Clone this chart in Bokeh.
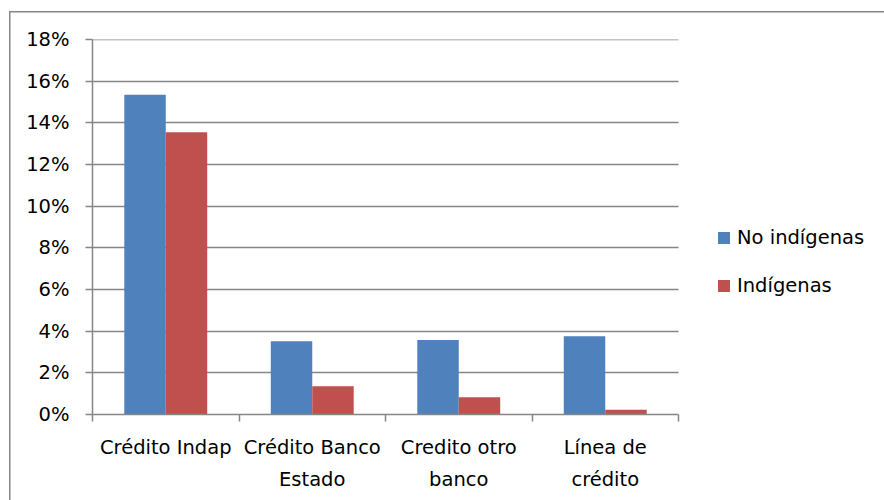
from bokeh.plotting import figure
from bokeh.models import (Range1d, FixedTicker, SingleIntervalTicker, NumeralTickFormatter,
                          Legend, LegendItem, ColumnDataSource)
from bokeh.transform import dodge
from bokeh.embed import file_html
from bokeh.resources import INLINE

categories = ["Crédito Indap", "Crédito Banco\nEstado", "Credito otro\nbanco", "Línea de\ncrédito"]
no_indigenas = [0.1535, 0.0352, 0.0358, 0.0376]
indigenas = [0.1355, 0.0136, 0.0083, 0.0023]
series_names = ["No indígenas", "Indígenas"]
colors = ["#4F81BD", "#C0504D"]
y_max = 0.18
y_step = 0.02

FONT = "DejaVu Sans"
FS = "19.5px"
GRAY = "#868686"

# layout (pixels)
W, H = 884, 500
LEFT, RIGHT, TOP, BOTTOM = 92, 4, 39, 86
PLOT_W = 586                      # width of the category area
FRAME_W = W - LEFT - RIGHT        # frame also hosts the legend on its right

n = len(categories)
pos = [i + 0.5 for i in range(n)]           # category centres (slot units)
edges = list(range(n + 1))                  # category boundaries
src = ColumnDataSource(data=dict(x=pos, no=no_indigenas, ind=indigenas))

p = figure(x_range=Range1d(0, n * FRAME_W / PLOT_W), y_range=Range1d(0, y_max * 1.0005),
           width=W, height=H, output_backend="svg", toolbar_location=None,
           min_border_left=LEFT, min_border_right=RIGHT, min_border_top=TOP,
           min_border_bottom=BOTTOM)
p.outline_line_color = None
p.background_fill_alpha = 0
p.border_fill_alpha = 0
# outer chart border: left and top edges (the rest lies outside the picture)
p.styles = {
    "background-color": "white",
    "background-image": "linear-gradient(#868686, #868686), linear-gradient(#868686, #868686)",
    "background-size": "1.5px 100%, 100% 1.5px",
    "background-position": "8.5px 11px, 8.5px 11px",
    "background-repeat": "no-repeat",
}

bw = 0.283
r1 = p.vbar(x=dodge("x", -bw / 2), top="no", width=bw, source=src,
            fill_color=colors[0], line_color=None)
r2 = p.vbar(x=dodge("x", bw / 2), top="ind", width=bw, source=src,
            fill_color=colors[1], line_color=None)

# y axis
ya = p.yaxis[0]
ya.ticker = SingleIntervalTicker(interval=y_step)
ya.formatter = NumeralTickFormatter(format="0%")
ya.axis_line_color = GRAY
ya.axis_line_width = 1.5
ya.major_tick_line_color = GRAY
ya.major_tick_line_width = 1.5
ya.major_tick_out = 7
ya.major_tick_in = 0
ya.minor_tick_line_color = None
ya.major_label_text_font = FONT
ya.major_label_text_font_size = FS
ya.major_label_text_color = "black"
ya.major_label_standoff = 16

yg = p.ygrid[0]
yg.grid_line_color = GRAY
yg.grid_line_width = 1.5
yg.ticker = ya.ticker
try:
    yg.cross_bounds = (0, n)
except Exception:
    pass
p.xgrid.grid_line_color = None

# x axis: labels at centres, short ticks at category boundaries
xa = p.xaxis[0]
xa.ticker = FixedTicker(ticks=pos, minor_ticks=edges)
xa.bounds = (0, n)
xa.major_label_overrides = dict(zip(pos, categories))
xa.axis_line_color = GRAY
xa.axis_line_width = 1.5
xa.major_tick_line_color = None
xa.major_tick_out = 7
xa.major_tick_in = 0
xa.minor_tick_line_color = GRAY
xa.minor_tick_line_width = 1.5
xa.minor_tick_out = 7
xa.minor_tick_in = 0
xa.major_label_text_font = FONT
xa.major_label_text_font_size = FS
xa.major_label_text_color = "black"
xa.major_label_standoff = 14
xa.major_label_text_line_height = 1.4

legend = Legend(items=[LegendItem(label=series_names[0], renderers=[r1]),
                       LegendItem(label=series_names[1], renderers=[r2])],
                location=(PLOT_W + 38, 117), orientation="vertical",
                label_text_font=FONT, label_text_font_size=FS, label_text_color="black",
                glyph_width=15, glyph_height=15, label_height=20, label_standoff=6, spacing=25,
                padding=0, margin=0, border_line_color=None, background_fill_alpha=0)
p.add_layout(legend, "center")

open("out.html", "w").write(file_html(p, INLINE))
